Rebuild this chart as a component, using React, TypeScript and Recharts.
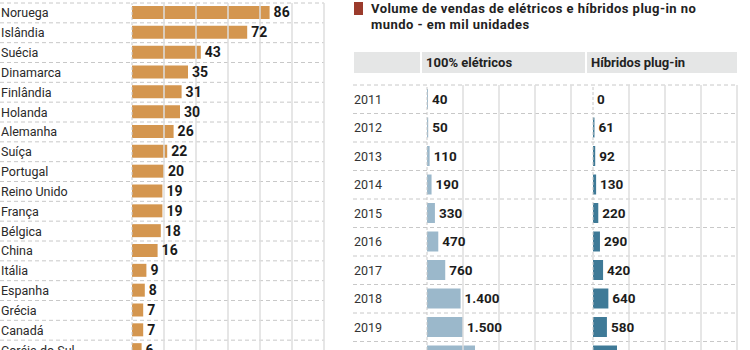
import React from 'react';
import { BarChart, Bar, XAxis, YAxis, CartesianGrid, LabelList, ReferenceLine } from 'recharts';

// ---- Data ----
const countries = ['Noruega', 'Islândia', 'Suécia', 'Dinamarca', 'Finlândia', 'Holanda', 'Alemanha', 'Suíça', 'Portugal', 'Reino Unido', 'França', 'Bélgica', 'China', 'Itália', 'Espanha', 'Grécia', 'Canadá', 'Coréia do Sul'];
const shares = [86, 72, 43, 35, 31, 30, 26, 22, 20, 19, 19, 18, 16, 9, 8, 7, 7, 6];
const shareTicks = [0, 20, 40, 60, 80, 100, 120];

const years = ['2011', '2012', '2013', '2014', '2015', '2016', '2017', '2018', '2019', '2020'];
const electric = [40, 50, 110, 190, 330, 470, 760, 1400, 1500, 2000];
const plugin = [0, 61, 92, 130, 220, 290, 420, 640, 580, 1000];
const salesTicks = [0, 1500, 3000, 4500, 6000];

const titleLine1 = 'Volume de vendas de elétricos e híbridos plug-in no';
const titleLine2 = 'mundo - em mil unidades';
const headerElectric = '100% elétricos';
const headerPlugin = 'Híbridos plug-in';

const countryData = countries.map((name, i) => ({ name, value: shares[i] }));
const salesData = years.map((year, i) => ({ year, electric: electric[i], plugin: plugin[i] }));

const FONT = 'Roboto, "Noto Sans", sans-serif';
const GRID_DASH = '#c8c8c8';
const GRID_SOLID = '#dedede';

const rowLines = (n: number) => ({ offset }: any) =>
  Array.from({ length: n + 1 }, (_, i) => offset.top + (offset.height * i) / n);

const fmt = (v: any) => String(v).replace(/\B(?=(\d{3})+(?!\d))/g, '.');

const CountryTick = (props: any) => {
  const { y, payload } = props;
  return (
    <text x={1} y={y} dy="0.36em" textAnchor="start" fontFamily={FONT} fontSize={12.5} fill="#2a2a2a">
      {payload.value}
    </text>
  );
};

const YearTick = (props: any) => {
  const { y, payload } = props;
  return (
    <text x={14} y={y} dy="0.36em" textAnchor="start" fontFamily={FONT} fontSize={12.5} fill="#333">
      {payload.value}
    </text>
  );
};

const SalesPanel = ({ dataKey, color, left, width, marginLeft, marginRight, withYears }: any) => (
  <div style={{ position: 'absolute', left, top: 0 }}>
    <BarChart
      width={width}
      height={370}
      data={salesData}
      layout="vertical"
      margin={{ top: 85, right: marginRight, bottom: 0, left: marginLeft }}
    >
      {withYears && (
        <CartesianGrid
          horizontal
          vertical={false}
          x={13}
          width={384}
          stroke={GRID_DASH}
          strokeDasharray="4 3"
          horizontalCoordinatesGenerator={rowLines(years.length)}
        />
      )}
      <XAxis type="number" domain={[0, 6000]} ticks={salesTicks} hide />
      {withYears ? (
        <YAxis type="category" dataKey="year" width={87} axisLine={false} tickLine={false} tick={<YearTick />} interval={0} />
      ) : (
        <YAxis type="category" dataKey="year" hide />
      )}
      {salesTicks.map((t) => (
        <ReferenceLine
          key={t}
          x={t}
          stroke={t === 0 ? '#c8c8c8' : GRID_SOLID}
          strokeWidth={t === 0 ? 1 : 1.5}
          strokeDasharray={t === 0 ? '3 2' : undefined}
        />
      ))}
      <Bar dataKey={dataKey} fill={color} barSize={20} minPointSize={0.01} isAnimationActive={false}>
        <LabelList
          dataKey={dataKey}
          position="right"
          offset={4}
          formatter={fmt}
          fill="#1c1c1c"
          fontSize={13.5}
          fontWeight={700}
          fontFamily={FONT}
        />
      </Bar>
    </BarChart>
  </div>
);

export default function App() {
  return (
    <div
      style={{
        position: 'absolute',
        left: 0,
        top: 0,
        width: 750,
        height: 350,
        overflow: 'hidden',
        background: '#fff',
        fontFamily: FONT,
      }}
    >
      {/* Left: country ranking */}
      <div style={{ position: 'absolute', left: 0, top: 0 }}>
        <BarChart
          width={340}
          height={360}
          data={countryData}
          layout="vertical"
          margin={{ top: 3, right: 16, bottom: 0, left: 0 }}
        >
          <CartesianGrid
            horizontal
            vertical={false}
            x={0}
            width={324}
            stroke={GRID_DASH}
            strokeDasharray="4 3"
            horizontalCoordinatesGenerator={rowLines(countries.length)}
          />
          <XAxis type="number" domain={[0, 120]} ticks={shareTicks} hide />
          <YAxis type="category" dataKey="name" width={132} axisLine={false} tickLine={false} tick={<CountryTick />} interval={0} />
          {shareTicks.map((t) => (
            <ReferenceLine
              key={t}
              x={t}
              stroke={t === 0 ? '#c8c8c8' : GRID_SOLID}
              strokeWidth={t === 0 ? 1 : 1.5}
              strokeDasharray={t === 0 ? '3 2' : undefined}
            />
          ))}
          <Bar dataKey="value" fill="#D4964F" barSize={13} isAnimationActive={false}>
            <LabelList dataKey="value" position="right" offset={4} fill="#1a1a1a" fontSize={14} fontWeight={700} fontFamily={FONT} />
          </Bar>
        </BarChart>
      </div>

      {/* Right: title */}
      <div style={{ position: 'absolute', left: 354, top: 2, width: 9, height: 13, background: '#9B3B2C' }} />
      <div
        style={{
          position: 'absolute',
          left: 371,
          top: 1,
          fontSize: 13,
          fontWeight: 700,
          lineHeight: '16px',
          letterSpacing: '0.45px',
          color: '#222',
          whiteSpace: 'nowrap',
        }}
      >
        <div>{titleLine1}</div>
        <div>{titleLine2}</div>
      </div>

      {/* Header band */}
      <div style={{ position: 'absolute', left: 354, top: 52, width: 66, height: 21, background: '#e5e6e6' }} />
      <div style={{ position: 'absolute', left: 422, top: 52, width: 163, height: 21, background: '#e5e6e6' }} />
      <div style={{ position: 'absolute', left: 587, top: 52, width: 150, height: 21, background: '#e5e6e6' }} />
      <div style={{ position: 'absolute', left: 426, top: 52, height: 21, lineHeight: '21px', fontSize: 13, fontWeight: 700, color: '#222' }}>
        {headerElectric}
      </div>
      <div style={{ position: 'absolute', left: 591, top: 52, height: 21, lineHeight: '21px', fontSize: 13, fontWeight: 700, color: '#222' }}>
        {headerPlugin}
      </div>

      {/* Sales panels */}
      <SalesPanel dataKey="electric" color="#9BB8CB" left={340} width={410} marginLeft={0} marginRight={179} withYears />
      <SalesPanel dataKey="plugin" color="#3F7A97" left={580} width={170} marginLeft={13} marginRight={13} withYears={false} />
    </div>
  );
}
